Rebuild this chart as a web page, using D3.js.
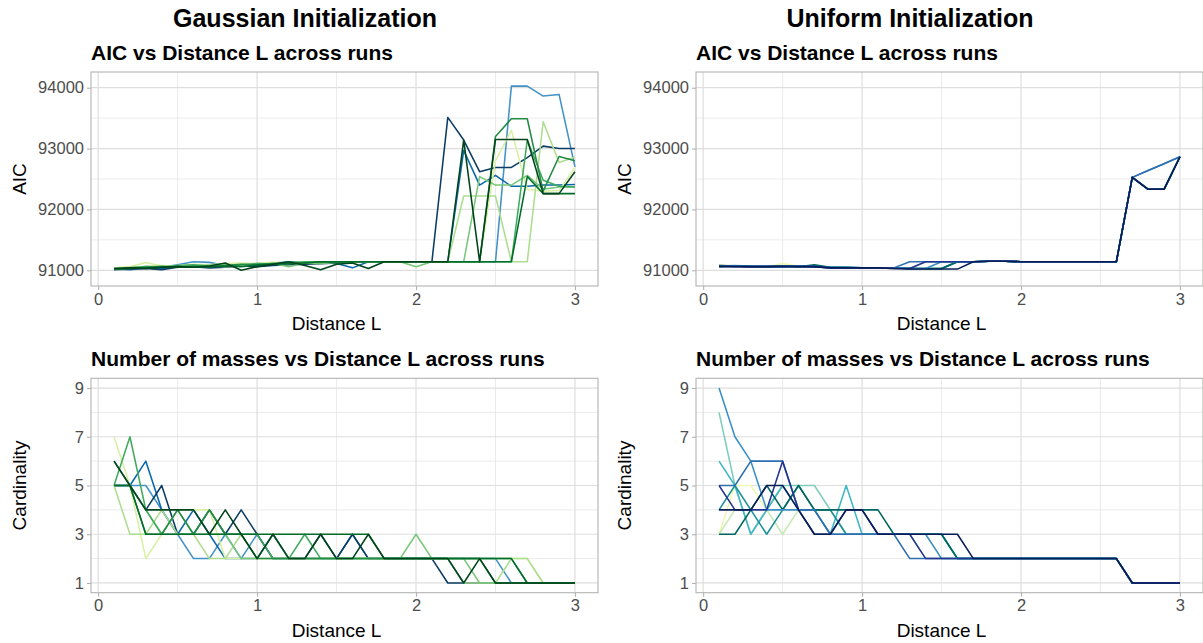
<!DOCTYPE html>
<html><head><meta charset="utf-8">
<script src="https://cdn.jsdelivr.net/npm/d3@7"></script>
<style>
body{margin:0;background:#fff;}
svg{display:block;font-family:"Liberation Sans",Arial,Helvetica,sans-serif;}
</style>
</head><body>
<svg id="chart" width="1203" height="643"></svg>
<script>
// ---------- data ----------
const distanceL = [0.1,0.2,0.3,0.4,0.5,0.6,0.7,0.8,0.9,1.0,1.1,1.2,1.3,1.4,1.5,1.6,1.7,1.8,1.9,2.0,2.1,2.2,2.3,2.4,2.5,2.6,2.7,2.8,2.9,3.0];
const xTicks = [0,1,2,3];
const xMinor = [0.5,1.5,2.5];
const aicTicks = [91000,92000,93000,94000];
const aicMinor = [91500,92500,93500];
const cardTicks = [1,3,5,7,9];
const cardMinor = [2,4,6,8];

// run colours (drawing order: first = bottom)
const gaussianColors = ["#4292c6","#0868ac","#0b3c63","#d9f0a3","#addd8e","#78c679","#41ab5d","#238b45","#006d2c","#00441b"];
const uniformColors = ["#edf8b1","#c7e9b4","#7fcdbb","#41b6c4","#1c9099","#01665e","#3a8fc8","#2c6fb0","#253494","#081d58"];

const gaussianAIC = [
 [91030,91040,91060,91050,91090,91140,91130,91080,91100,91110,91120,91140,91130,91120,91141,91141,91141,91141,91141,91141,91141,91141,91141,91141,91141,94026,94026,93862,93890,92700],
 [91020,91010,91040,91030,91060,91070,91050,91060,91100,91080,91110,91100,91120,91130,91110,91040,91141,91141,91141,91141,91141,91141,92970,92400,92560,92380,92380,92400,92400,92410],
 [91010,91020,91030,91010,91050,91060,91040,91050,91070,91060,91080,91090,91100,91110,91120,91141,91141,91141,91141,91141,91141,93512,93140,92620,92690,92690,92850,93040,93000,93000],
 [91040,91060,91130,91070,91080,91100,91090,91110,91120,91110,91130,91120,91140,91130,91141,91141,91141,91141,91141,91141,91141,91141,91141,91141,92800,93300,92330,92300,92310,92690],
 [91030,91050,91060,91080,91060,91070,91090,91060,91080,91100,91120,91110,91130,91120,91141,91141,91141,91141,91141,91141,91141,91141,92220,92220,92220,91141,91141,93440,92770,92860],
 [91020,91040,91050,91060,91070,91060,91080,91090,91070,91100,91110,91060,91120,91110,91130,91141,91141,91141,91141,91060,91141,91141,91141,92540,92400,92400,92560,92330,92370,92370],
 [91030,91040,91060,91050,91080,91090,91070,91060,91090,91110,91100,91120,91141,91130,91141,91141,91141,91141,91141,91141,91141,91141,91141,91141,91141,91141,93140,92480,92380,92370],
 [91020,91030,91050,91060,91050,91070,91060,91080,91100,91090,91110,91130,91120,91141,91130,91141,91141,91141,91141,91141,91141,91141,91141,91141,93200,93490,93490,92300,92870,92800],
 [91020,91030,91040,91050,91060,91050,91060,91070,91060,91090,91100,91110,91120,91141,91141,91141,91141,91141,91141,91141,91141,91141,91141,91141,91141,91141,92540,92260,92260,92260],
 [91030,91040,91030,91050,91060,91050,91070,91120,91000,91060,91100,91141,91080,91010,91100,91120,91030,91141,91141,91141,91141,91141,93140,91141,93150,93150,93150,92260,92260,92620]
];

const gaussianCard = [
 [5,5,5,4,3,2,2,3,2,3,2,2,2,2,2,2,2,2,2,2,2,2,2,2,2,1,1,1,1,1],
 [5,5,6,4,3,4,3,2,2,2,3,2,2,2,2,3,2,2,2,2,2,2,1,1,1,1,1,1,1,1],
 [5,5,4,5,3,3,4,3,4,3,2,2,2,3,2,3,2,2,2,2,2,1,1,1,1,1,1,1,1,1],
 [7,5,2,3,4,4,4,2,2,2,2,2,2,2,2,2,2,2,2,2,2,2,2,2,2,2,2,1,1,1],
 [5,3,3,4,3,3,2,2,3,2,2,2,2,2,2,2,2,2,2,2,2,2,1,1,1,2,2,1,1,1],
 [5,5,4,3,4,3,3,3,2,2,3,2,2,2,2,2,2,2,2,3,2,2,2,1,1,1,1,1,1,1],
 [5,7,4,3,3,3,4,3,3,3,2,2,3,2,2,2,2,2,2,2,2,2,2,2,2,2,1,1,1,1],
 [6,5,3,3,4,3,4,3,3,2,2,2,2,2,2,2,2,2,2,2,2,2,2,2,1,1,1,1,1,1],
 [5,5,3,3,3,3,3,3,3,3,3,3,3,3,3,3,3,2,2,2,2,2,2,2,2,2,1,1,1,1],
 [6,5,4,4,4,4,3,4,3,2,3,2,2,3,2,2,3,2,2,2,2,2,1,2,1,1,1,1,1,1]
];

const uniformAIC = [
 [91080,91070,91060,91060,91110,91070,91060,91050,91050,91040,91040,91040,91030,91030,91141,91141,91141,91150,91150,91141,91141,91141,91141,91141,91141,91141,92527,92330,92330,92866],
 [91090,91070,91060,91070,91080,91060,91070,91050,91040,91040,91040,91030,91030,91141,91141,91141,91141,91150,91150,91141,91141,91141,91141,91141,91141,91141,92527,92340,92340,92866],
 [91060,91070,91060,91060,91070,91060,91060,91050,91040,91040,91040,91040,91030,91030,91030,91141,91141,91150,91150,91141,91141,91141,91141,91141,91141,91141,92527,92330,92330,92866],
 [91070,91080,91070,91060,91060,91060,91070,91050,91050,91040,91040,91040,91030,91020,91020,91141,91141,91150,91150,91141,91141,91141,91141,91141,91141,91141,92527,92330,92330,92866],
 [91070,91070,91060,91060,91060,91070,91060,91050,91040,91040,91040,91040,91030,91030,91030,91141,91141,91150,91150,91141,91141,91141,91141,91141,91141,91141,92527,92330,92330,92866],
 [91080,91070,91060,91060,91070,91060,91090,91050,91050,91040,91040,91040,91030,91030,91030,91141,91141,91150,91150,91141,91141,91141,91141,91141,91141,91141,92527,92330,92330,92866],
 [91060,91070,91060,91060,91060,91060,91060,91050,91050,91040,91040,91040,91030,91030,91141,91141,91141,91150,91150,91141,91141,91141,91141,91141,91141,91141,92527,92640,92750,92866],
 [91070,91070,91060,91060,91060,91070,91060,91040,91040,91040,91040,91040,91141,91141,91141,91141,91141,91150,91150,91141,91141,91141,91141,91141,91141,91141,92527,92640,92750,92866],
 [91070,91060,91060,91060,91070,91060,91060,91040,91040,91040,91040,91030,91030,91141,91141,91141,91141,91150,91150,91141,91141,91141,91141,91141,91141,91141,92527,92330,92330,92866],
 [91060,91060,91060,91060,91060,91060,91060,91040,91040,91040,91040,91030,91020,91020,91020,91020,91141,91150,91150,91141,91141,91141,91141,91141,91141,91141,92527,92330,92330,92866]
];

const uniformCard = [
 [3,5,5,4,4,4,4,4,3,3,3,3,3,3,2,2,2,2,2,2,2,2,2,2,2,2,1,1,1,1],
 [3,4,4,4,3,4,3,3,3,3,3,3,3,2,2,2,2,2,2,2,2,2,2,2,2,2,1,1,1,1],
 [8,5,3,4,5,5,5,4,3,3,3,3,3,3,3,2,2,2,2,2,2,2,2,2,2,2,1,1,1,1],
 [6,5,3,4,5,4,4,3,5,3,3,3,3,3,3,2,2,2,2,2,2,2,2,2,2,2,1,1,1,1],
 [4,5,4,3,4,5,4,4,3,3,3,3,3,3,3,2,2,2,2,2,2,2,2,2,2,2,1,1,1,1],
 [3,3,4,5,4,5,4,4,4,4,4,3,3,3,3,2,2,2,2,2,2,2,2,2,2,2,1,1,1,1],
 [9,7,6,4,4,4,4,3,3,3,3,3,3,3,2,2,2,2,2,2,2,2,2,2,2,2,1,1,1,1],
 [5,5,6,6,6,4,4,3,3,3,3,3,2,2,2,2,2,2,2,2,2,2,2,2,2,2,1,1,1,1],
 [5,4,4,4,6,4,3,3,4,4,3,3,3,2,2,2,2,2,2,2,2,2,2,2,2,2,1,1,1,1],
 [4,4,4,5,5,4,3,3,4,4,3,3,3,3,3,3,2,2,2,2,2,2,2,2,2,2,1,1,1,1]
];

// ---------- drawing ----------
const svg = d3.select("#chart");
const FONT = '"Liberation Sans",Arial,Helvetica,sans-serif';

function panel(off, top, bottom, yDomain, yTicks, yMinor, runs, colors, subtitle, yLabel) {
  const left = 91 + off, right = 598 + off;
  const x = d3.scaleLinear().domain([-0.045, 3.145]).range([left, right]);
  const y = d3.scaleLinear().domain(yDomain).range([bottom, top]);
  const g = svg.append("g");

  // grid
  g.selectAll(".hmin").data(yMinor).join("line")
    .attr("x1", left).attr("x2", right).attr("y1", d => y(d)).attr("y2", d => y(d))
    .attr("stroke", "#e6e6e6").attr("stroke-width", 0.8);
  g.selectAll(".vmin").data(xMinor).join("line")
    .attr("y1", top).attr("y2", bottom).attr("x1", d => x(d)).attr("x2", d => x(d))
    .attr("stroke", "#e6e6e6").attr("stroke-width", 0.8);
  g.selectAll(".hmaj").data(yTicks).join("line")
    .attr("x1", left).attr("x2", right).attr("y1", d => y(d)).attr("y2", d => y(d))
    .attr("stroke", "#dedede").attr("stroke-width", 1.2);
  g.selectAll(".vmaj").data(xTicks).join("line")
    .attr("y1", top).attr("y2", bottom).attr("x1", d => x(d)).attr("x2", d => x(d))
    .attr("stroke", "#dedede").attr("stroke-width", 1.2);

  // lines
  const line = d3.line().x((d, i) => x(distanceL[i])).y(d => y(d));
  const clipId = "clip" + off + "_" + Math.round(top);
  svg.append("clipPath").attr("id", clipId).append("rect")
    .attr("x", left).attr("y", top).attr("width", right - left).attr("height", bottom - top);
  g.append("g").attr("clip-path", `url(#${clipId})`)
    .selectAll("path").data(runs).join("path")
    .attr("d", line).attr("fill", "none")
    .attr("stroke", (d, i) => colors[i]).attr("stroke-width", 1.55)
    .attr("stroke-linejoin", "round").attr("stroke-linecap", "butt");

  // border
  g.append("rect").attr("x", left).attr("y", top).attr("width", right - left).attr("height", bottom - top)
    .attr("fill", "none").attr("stroke", "#b3b3b3").attr("stroke-width", 1.1);

  // axes
  const xAxis = d3.axisBottom(x).tickValues(xTicks).tickFormat(d3.format("d")).tickSizeOuter(0).tickSize(4).tickPadding(3);
  const gx = g.append("g").attr("transform", `translate(0,${bottom})`).call(xAxis);
  const yAxis = d3.axisLeft(y).tickValues(yTicks).tickFormat(d3.format("d")).tickSizeOuter(0).tickSize(4).tickPadding(3);
  const gy = g.append("g").attr("transform", `translate(${left},0)`).call(yAxis);
  [gx, gy].forEach(a => {
    a.select(".domain").remove();
    a.selectAll(".tick line").attr("stroke", "#b3b3b3").attr("stroke-width", 1.1);
    a.selectAll(".tick text").attr("fill", "#4d4d4d").style("font-size", "16.5px").style("font-family", FONT);
  });

  // axis titles
  g.append("text").attr("x", (x(0) + x(3)) / 2).attr("y", bottom + 44)
    .attr("text-anchor", "middle").style("font-size", "19px").attr("fill", "#000").text("Distance L");
  g.append("text").attr("transform", `translate(${off + 26},${(top + bottom) / 2}) rotate(-90)`)
    .attr("text-anchor", "middle").style("font-size", "19px").attr("fill", "#000").text(yLabel);

  // subtitle
  g.append("text").attr("x", left).attr("y", top - 12)
    .style("font-size", "21px").style("font-weight", "bold").attr("fill", "#000").text(subtitle);
}

const topT = 72, topB = 286, botT = 378.3, botB = 592.7;
[[0, "Gaussian Initialization", gaussianAIC, gaussianCard, gaussianColors],
 [605, "Uniform Initialization", uniformAIC, uniformCard, uniformColors]].forEach(([off, title, aic, card, cols]) => {
  svg.append("text").attr("x", 305 + off).attr("y", 27).attr("text-anchor", "middle")
    .style("font-size", "25px").style("font-weight", "bold").attr("fill", "#000").text(title);
  panel(off, topT, topB, [90742, 94258], aicTicks, aicMinor, aic, cols, "AIC vs Distance L across runs", "AIC");
  panel(off, botT, botB, [0.6, 9.4], cardTicks, cardMinor, card, cols, "Number of masses vs Distance L across runs", "Cardinality");
});
</script>
</body></html>
